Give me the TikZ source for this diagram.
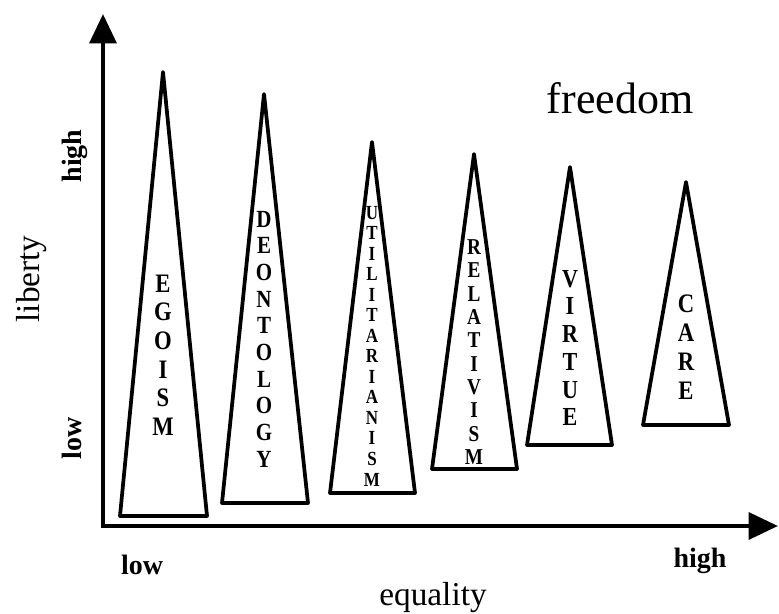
\documentclass[tikz,border=0pt]{standalone}
\usepackage{fontspec}
\setmainfont{Liberation Serif}
\newfontfamily\etroite[FakeStretch=0.85]{Liberation Serif}
\usetikzlibrary{arrows.meta,positioning}

\tikzset{
  axe/.style={line width=3.2pt, {Triangle[length=22pt,width=20pt]}-{Triangle[length=22pt,width=20pt]}},
  cone/.style={line width=2.8pt, line join=round},
  lettres/.style={align=center, inner sep=0pt},
  graduation/.style={font=\bfseries\fontsize{21}{21}\selectfont, inner sep=0pt},
  titre/.style={font=\fontsize{25}{25}\selectfont, inner sep=0pt},
}

\begin{document}
\begin{tikzpicture}[x=0.75pt,y=-0.75pt]
        \useasboundingbox (0,0) rectangle (779,614);

        % Axes
        \coordinate (O) at (103,526);
        \coordinate (Ytip) at (103,14);
        \coordinate (Xtip) at (778,526);
        \draw[axe] (Ytip) -- (O) -- (Xtip);

        % Labels des axes
        \node[graduation, rotate=90, anchor=base] (yhigh) at (81,156) {high};
        \node[graduation, rotate=90, anchor=base] (ylow) at (81,438) {low};
        \node[titre, rotate=90, anchor=base] (liberty) at (40,279) {liberty};
        \node[graduation, anchor=base] (xlow) at (142,574) {low};
        \node[graduation, anchor=base] (xhigh) at (700,567) {high};
        \node[titre, anchor=base] (equality) at (433,605) {equality};
        \node[font=\fontsize{33}{33}\selectfont, anchor=base] (freedom) at (620,113) {freedom};

        % Cones
        \draw[cone] (163,72) -- (207,516) -- (120,516) -- cycle;
        \draw[cone] (264,94) -- (308,503) -- (222,503) -- cycle;
        \draw[cone] (372,142) -- (415,493) -- (330,493) -- cycle;
        \draw[cone] (474,154) -- (517,469) -- (432,469) -- cycle;
        \draw[cone] (570,167) -- (612,445) -- (527,445) -- cycle;
        \draw[cone] (686,182) -- (729,425) -- (643,425) -- cycle;

        % Textes verticaux
        \node[lettres, font=\etroite\bfseries\fontsize{20}{21.4}\selectfont] (egoism) at (163,355)
            {E\\G\\O\\I\\S\\M};
        \node[lettres, font=\etroite\bfseries\fontsize{18.5}{20}\selectfont] (deontology) at (264,339)
            {D\\E\\O\\N\\T\\O\\L\\O\\G\\Y};
        \node[lettres, font=\etroite\bfseries\fontsize{15}{15.4}\selectfont] (utilitarianism) at (372,346)
            {U\\T\\I\\L\\I\\T\\A\\R\\I\\A\\N\\I\\S\\M};
        \node[lettres, font=\etroite\bfseries\fontsize{17}{17.5}\selectfont] (relativism) at (474,352)
            {R\\E\\L\\A\\T\\I\\V\\I\\S\\M};
        \node[lettres, font=\etroite\bfseries\fontsize{19.5}{20.8}\selectfont] (virtue) at (570,348)
            {V\\I\\R\\T\\U\\E};
        \node[lettres, font=\etroite\bfseries\fontsize{20}{21.75}\selectfont] (care) at (686,347)
            {C\\A\\R\\E};
    \end{tikzpicture}
\end{document}
